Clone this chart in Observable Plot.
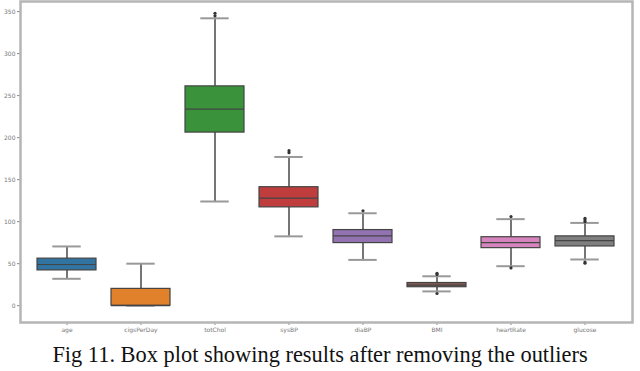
<!DOCTYPE html>
<html>
<head>
<meta charset="utf-8">
<script src="https://cdn.jsdelivr.net/npm/d3@7"></script>
<script src="https://cdn.jsdelivr.net/npm/@observablehq/plot@0.6"></script>
<style>
  body { margin: 0; background: #fff; }
  #caption { font-family: "Liberation Serif", "DejaVu Serif", serif; font-size: 22.4px; text-align: center; color: #111; width: 640px; line-height: 36px; height: 36px; padding-top: 2px; white-space: nowrap; }
</style>
</head>
<body>
<div id="chart"></div>
<div id="caption">Fig 11. Box plot showing results after removing the outliers</div>
<script>
const names = ["age", "cigsPerDay", "totChol", "sysBP", "diaBP", "BMI", "heartRate", "glucose"];
const lowWhisker = [32, 0, 124, 82.5, 54.5, 17, 47, 55];
const q1 = [42, 0, 206, 117, 74.5, 22, 68.5, 70.5];
const median = [49, 0, 234, 128, 83, 24.5, 75, 77.5];
const q3 = [56, 20, 261, 141, 90, 27, 81.5, 82.5];
const highWhisker = [70.5, 50, 342, 177, 110, 35, 103, 98.5];
const colors = ["#3274a1", "#e1812c", "#3a923a", "#c03d3e", "#9372b2", "#845b53", "#d684bd", "#7f7f7f"];
const outlierNames = ["totChol", "totChol", "sysBP", "sysBP", "diaBP", "BMI", "BMI", "BMI", "heartRate", "heartRate", "glucose", "glucose", "glucose", "glucose", "glucose"];
const outlierValues = [345, 348, 182, 184.5, 113, 37, 38.5, 14.5, 106, 45, 100, 102, 104, 52, 50.5];
const yTicks = [0, 50, 100, 150, 200, 250, 300, 350];

const boxes = names.map((n, i) => ({name: n, lo: lowWhisker[i], q1: q1[i], med: median[i], q3: q3[i], hi: highWhisker[i], color: colors[i]}));
const outliers = outlierNames.map((n, i) => ({name: n, v: outlierValues[i]}));

const step = 612 / 8;
const boxW = step * 0.8;
const capInset = boxW * 0.25;

const chart = Plot.plot({
  width: 640,
  height: 335,
  marginLeft: 20,
  marginRight: 8,
  marginTop: 1,
  marginBottom: 13,
  style: {fontFamily: "DejaVu Sans, sans-serif", color: "#666"},
  x: {domain: names, padding: 0.2, label: null},
  y: {domain: [-20, 362], label: null},
  color: {type: "identity"},
  marks: [
    Plot.axisY({ticks: yTicks, tickSize: 3, tickPadding: 2, fontSize: 6, stroke: "#888", fill: "#777", label: null}),
    Plot.axisX({tickSize: 3, tickPadding: 2, fontSize: 6, stroke: "#888", fill: "#777", label: null}),
    Plot.ruleX(boxes, {x: "name", y1: "lo", y2: "q1", stroke: "#666", strokeWidth: 1.8}),
    Plot.ruleX(boxes, {x: "name", y1: "q3", y2: "hi", stroke: "#666", strokeWidth: 1.8}),
    Plot.tickY(boxes, {x: "name", y: "lo", stroke: "#999", strokeWidth: 2, insetLeft: capInset, insetRight: capInset}),
    Plot.tickY(boxes, {x: "name", y: "hi", stroke: "#999", strokeWidth: 2, insetLeft: capInset, insetRight: capInset}),
    Plot.barY(boxes, {x: "name", y1: "q1", y2: "q3", fill: "color", stroke: "#444", strokeWidth: 1.2}),
    Plot.tickY(boxes, {x: "name", y: "med", stroke: "#444", strokeWidth: 1.2}),
    Plot.dot(outliers, {x: "name", y: "v", r: 1.6, fill: "#333", stroke: "none"}),
    Plot.frame({stroke: "#b5b5b5", strokeWidth: 2.5})
  ]
});
document.getElementById("chart").appendChild(chart);
</script>
</body>
</html>
